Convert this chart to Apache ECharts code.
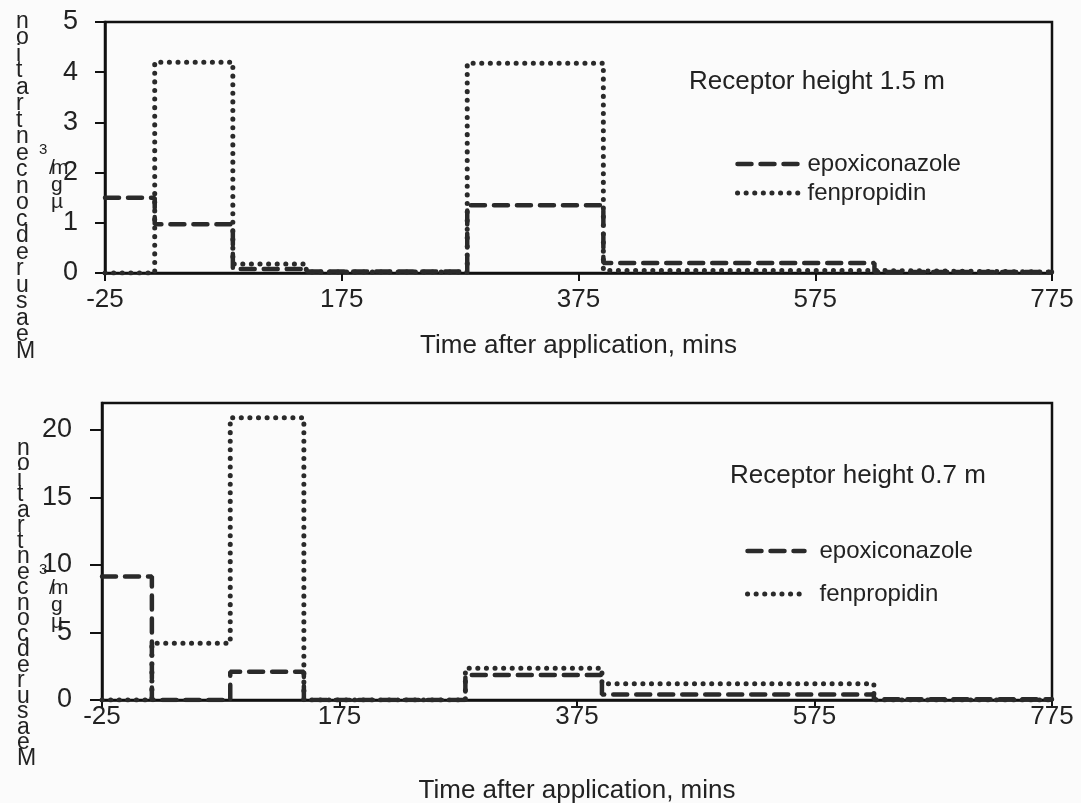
<!DOCTYPE html>
<html>
<head>
<meta charset="utf-8">
<title>Measured concentration at two receptor heights</title>
<script src="https://cdn.jsdelivr.net/npm/echarts@6/dist/echarts.min.js"></script>
<style>
  html, body { margin: 0; padding: 0; background: #fbfbfb; }
  #chart { width: 1081px; height: 803px; }
</style>
</head>
<body>
<div id="chart"></div>
<script>
// Sampling period boundaries (minutes after application); the last entry closes the final period
const periodStarts = [-25, 17, 83, 145, 281, 396, 625, 775];

// Receptor height 1.5 m, concentration in µg/m3 for each period
const epoxiconazoleHigh = [1.5, 0.97, 0.08, 0.03, 1.35, 0.2, 0.02, 0.02];
const fenpropidinHigh   = [0, 4.2, 0.18, 0.02, 4.18, 0.05, 0.02, 0.02];

// Receptor height 0.7 m
const epoxiconazoleLow = [9.15, 0, 2.1, 0, 1.85, 0.4, 0.05, 0.05];
const fenpropidinLow   = [0, 4.2, 20.9, 0, 2.35, 1.2, 0, 0];

const xTickValues = [-25, 175, 375, 575, 775];
const yTicksHigh = [0, 1, 2, 3, 4, 5];
const yTicksLow = [0, 5, 10, 15, 20];

const seriesNames = ['epoxiconazole', 'fenpropidin'];
const panelTitles = ['Receptor height 1.5 m', 'Receptor height 0.7 m'];
const xAxisTitle = 'Time after application, mins';
const yTitleWord = 'Measured concentration';

const FONT = '"Liberation Sans", Arial, sans-serif';
const INK = '#222';

function pairs(values) {
  return periodStarts.map((t, i) => [t, values[i]]);
}

function xAxisFor(gridIndex, labelMargin, nameGap) {
  return {
    type: 'value', gridIndex: gridIndex, min: -25, max: 775,
    axisLine: { show: true, onZero: false, lineStyle: { color: '#111', width: 2.5 } },
    axisTick: { show: true, length: 8, lineStyle: { color: '#111', width: 2 }, customValues: xTickValues },
    axisLabel: { customValues: xTickValues, fontSize: 26, color: INK, fontFamily: FONT, margin: labelMargin },
    splitLine: { show: false },
    name: xAxisTitle, nameLocation: 'middle', nameGap: nameGap,
    nameTextStyle: { fontSize: 26, color: INK, fontFamily: FONT }
  };
}

function yAxisFor(gridIndex, max, ticks, tickLen, labelMargin) {
  return {
    type: 'value', gridIndex: gridIndex, min: 0, max: max,
    axisLine: { show: true, onZero: false, lineStyle: { color: '#111', width: 2.5 } },
    axisTick: { show: true, length: tickLen, lineStyle: { color: '#111', width: 2 }, customValues: ticks },
    axisLabel: { customValues: ticks, fontSize: 27, color: INK, fontFamily: FONT, margin: labelMargin },
    splitLine: { show: false }
  };
}

const dashedStyle = { color: '#2a2a2a', width: 4.5, type: [14, 9], cap: 'round' };
const dottedStyle = { color: '#2a2a2a', width: 5, type: [0.1, 8.5], cap: 'round' };

function stepSeries(name, values, axisIndex, style, z) {
  return {
    name: name, type: 'line', step: 'end',
    xAxisIndex: axisIndex, yAxisIndex: axisIndex,
    data: pairs(values), symbol: 'none', showSymbol: false,
    lineStyle: style, itemStyle: { color: '#2a2a2a' }, z: z,
    animation: false
  };
}

// The y-axis title is set as a column of single upright letters, read from the bottom up
function verticalWord(x, y, lineHeight) {
  return {
    type: 'text', left: x, top: y, z: 10,
    style: {
      text: yTitleWord.split('').reverse().filter(c => c !== ' ').join('\n'),
      fontSize: 23, fontFamily: FONT, fill: INK, lineHeight: lineHeight, align: 'center'
    }
  };
}

function unitStack(x, y) {
  return [
    { type: 'text', left: x - 12, top: y, z: 10,
      style: { text: '3', fontSize: 15, fontFamily: FONT, fill: INK } },
    { type: 'text', left: x, top: y + 16, z: 10,
      style: { text: 'm\ng\nµ', fontSize: 21, fontFamily: FONT, fill: INK, lineHeight: 17 } },
    { type: 'text', left: x - 2, top: y + 16, z: 10,
      style: { text: '/', fontSize: 21, fontFamily: FONT, fill: INK } }
  ];
}

const legendBase = {
  data: seriesNames, orient: 'vertical', selectedMode: false, itemHeight: 14,
  itemStyle: { opacity: 0 },
  lineStyle: { width: 'inherit', type: 'inherit', cap: 'inherit' }
};

const gridBase = {
  show: true, borderColor: '#111', borderWidth: 2.5, backgroundColor: 'transparent',
  containLabel: false, outerBoundsMode: 'none'
};

const chart = echarts.init(document.getElementById('chart'), null, { renderer: 'canvas' });

chart.setOption({
  animation: false,
  backgroundColor: '#fbfbfb',
  grid: [
    Object.assign({}, gridBase, { left: 105, top: 22, right: 29, height: 251 }),
    Object.assign({}, gridBase, { left: 102, top: 403, right: 29, height: 297 })
  ],
  title: [
    { text: panelTitles[0], left: 684, top: 64, textStyle: { fontSize: 26, fontWeight: 'normal', color: INK, fontFamily: FONT } },
    { text: panelTitles[1], left: 725, top: 458, textStyle: { fontSize: 26, fontWeight: 'normal', color: INK, fontFamily: FONT } }
  ],
  legend: [
    Object.assign({}, legendBase, { left: 730, top: 147, itemWidth: 65, itemGap: 5,
      textStyle: { fontSize: 24, color: INK, fontFamily: FONT } }),
    Object.assign({}, legendBase, { left: 740, top: 534, itemWidth: 57, itemGap: 19,
      textStyle: { fontSize: 24, color: INK, fontFamily: FONT, padding: [0, 0, 0, 10] } })
  ],
  xAxis: [xAxisFor(0, 14, 60), xAxisFor(1, 4, 78)],
  yAxis: [yAxisFor(0, 5, yTicksHigh, 10, 27), yAxisFor(1, 22, yTicksLow, 12, 30)],
  series: [
    stepSeries(seriesNames[1], fenpropidinHigh, 0, dottedStyle, 2),
    stepSeries(seriesNames[0], epoxiconazoleHigh, 0, dashedStyle, 3),
    stepSeries(seriesNames[1], fenpropidinLow, 1, dottedStyle, 2),
    stepSeries(seriesNames[0], epoxiconazoleLow, 1, dashedStyle, 3)
  ],
  graphic: [
    verticalWord(16, 10, 16.5),
    verticalWord(17, 437, 15.5),
    ...unitStack(51, 142),
    ...unitStack(51, 562)
  ]
});
</script>
</body>
</html>
